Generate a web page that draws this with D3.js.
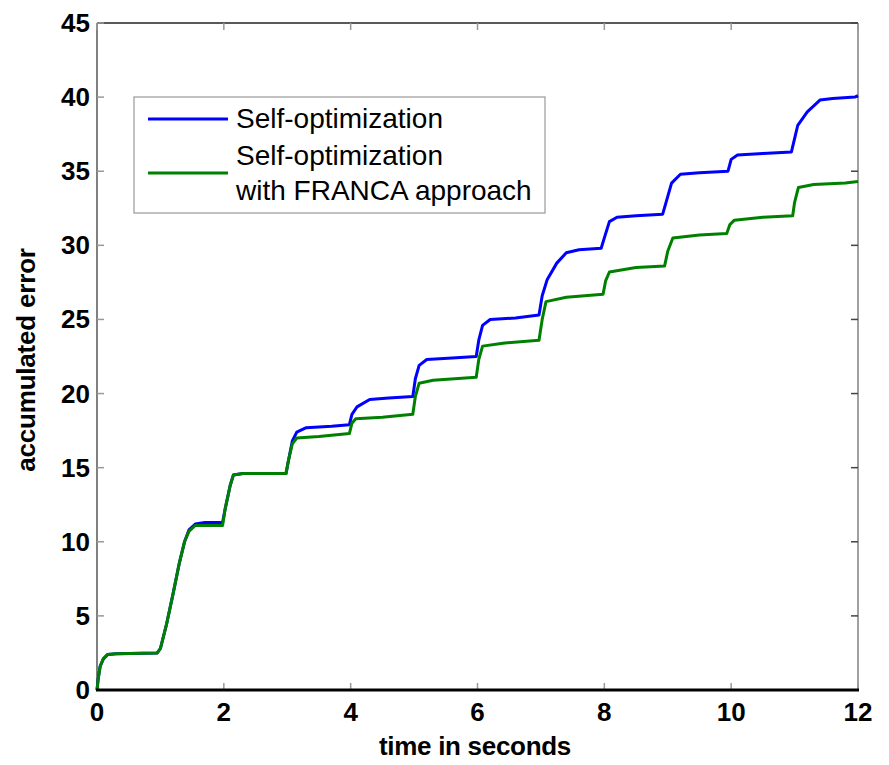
<!DOCTYPE html>
<html>
<head>
<meta charset="utf-8">
<script src="https://cdn.jsdelivr.net/npm/d3@7/dist/d3.min.js"></script>
<style>
  html, body { margin: 0; padding: 0; background: #fff; }
  svg { display: block; }
  text { font-family: "Liberation Sans", Arial, sans-serif; }
</style>
</head>
<body>
<svg id="chart" width="889" height="765"></svg>
<script>
// ---- data ----
const blueTime = [0,0.02,0.05,0.1,0.17,0.3,0.95,1.0,1.1,1.2,1.3,1.38,1.45,1.55,1.7,1.98,2.02,2.1,2.15,2.3,2.98,3.02,3.08,3.15,3.3,3.7,3.98,4.02,4.1,4.3,4.6,4.98,5.02,5.08,5.2,5.6,5.98,6.02,6.08,6.2,6.6,6.97,7.02,7.1,7.25,7.4,7.6,7.95,8.0,8.08,8.2,8.5,8.92,8.98,9.06,9.2,9.5,9.95,10.0,10.1,10.5,10.95,11.0,11.05,11.2,11.4,11.6,11.95,12.0];
const blueValues = [0,0.8,1.6,2.1,2.4,2.45,2.5,2.8,4.5,6.5,8.6,10.0,10.8,11.2,11.3,11.3,12.2,13.8,14.5,14.6,14.6,15.5,16.8,17.4,17.7,17.8,17.9,18.6,19.1,19.6,19.7,19.8,21.0,21.9,22.3,22.4,22.5,23.6,24.6,25.0,25.1,25.3,26.6,27.7,28.8,29.5,29.7,29.8,30.5,31.6,31.9,32.0,32.1,33.0,34.2,34.8,34.9,35.0,35.8,36.1,36.2,36.3,37.2,38.1,39.0,39.8,39.9,40.0,40.1];

const greenTime = [0,0.02,0.05,0.1,0.17,0.3,0.95,1.0,1.1,1.2,1.3,1.38,1.45,1.55,1.98,2.02,2.1,2.15,2.3,2.98,3.02,3.08,3.15,3.5,3.98,4.02,4.08,4.5,4.98,5.02,5.08,5.3,5.98,6.02,6.08,6.4,6.97,7.02,7.08,7.4,7.98,8.02,8.08,8.5,8.95,9.0,9.08,9.5,9.93,9.98,10.05,10.5,10.97,11.0,11.06,11.3,11.8,12.0];
const greenValues = [0,0.8,1.6,2.1,2.4,2.45,2.5,2.8,4.5,6.5,8.6,10.0,10.7,11.1,11.1,12.2,13.8,14.5,14.6,14.6,15.5,16.6,17.0,17.1,17.3,18.0,18.3,18.4,18.6,19.8,20.7,20.9,21.1,22.3,23.2,23.4,23.6,25.0,26.2,26.5,26.7,27.6,28.2,28.5,28.6,29.6,30.5,30.7,30.8,31.4,31.7,31.9,32.0,32.9,33.9,34.1,34.2,34.3];

const xTicks = [0,2,4,6,8,10,12];
const yTicks = [0,5,10,15,20,25,30,35,40,45];
const seriesNames = ["Self-optimization", "Self-optimization|with FRANCA approach"];
const seriesColors = ["#0000ff", "#008000"];
const xLabel = "time in seconds";
const yLabel = "accumulated error";

// ---- layout ----
const svg = d3.select("#chart");
const L = 97, R = 858, T = 23, B = 690;
const x = d3.scaleLinear().domain([0, 12]).range([L, R]);
const y = d3.scaleLinear().domain([0, 45]).range([B, T]);

// frame
svg.append("line").attr("x1", L).attr("x2", L).attr("y1", T).attr("y2", B).attr("stroke", "#808080").attr("stroke-width", 2);
svg.append("line").attr("x1", R).attr("x2", R).attr("y1", T).attr("y2", B).attr("stroke", "#808080").attr("stroke-width", 1.5);
svg.append("line").attr("x1", L).attr("x2", R).attr("y1", T).attr("y2", T).attr("stroke", "#222").attr("stroke-width", 1.5);

// ticks (inward, all four sides)
const tickLen = 7;
xTicks.forEach(v => {
  svg.append("line").attr("x1", x(v)).attr("x2", x(v)).attr("y1", B).attr("y2", B - tickLen).attr("stroke", "#999").attr("stroke-width", 1.5);
  svg.append("line").attr("x1", x(v)).attr("x2", x(v)).attr("y1", T).attr("y2", T + tickLen).attr("stroke", "#999").attr("stroke-width", 1.5);
});
yTicks.forEach(v => {
  svg.append("line").attr("x1", L).attr("x2", L + tickLen).attr("y1", y(v)).attr("y2", y(v)).attr("stroke", "#999").attr("stroke-width", 1.5);
  svg.append("line").attr("x1", R).attr("x2", R - tickLen).attr("y1", y(v)).attr("y2", y(v)).attr("stroke", "#444").attr("stroke-width", 1.5);
});

// tick labels
svg.append("g").selectAll("text").data(xTicks).join("text")
  .attr("x", d => x(d)).attr("y", 721).attr("text-anchor", "middle")
  .attr("font-size", 26).attr("font-weight", "bold").attr("fill", "#000")
  .text(d => d);
svg.append("g").selectAll("text").data(yTicks).join("text")
  .attr("x", 90).attr("y", d => y(d) + 9).attr("text-anchor", "end")
  .attr("font-size", 26).attr("font-weight", "bold").attr("fill", "#000")
  .text(d => d);

// axis labels
svg.append("text").attr("x", 475).attr("y", 755).attr("text-anchor", "middle")
  .attr("font-size", 26).attr("font-weight", "bold").attr("letter-spacing", -0.3).text(xLabel);
svg.append("text").attr("transform", "translate(35,360) rotate(-90)").attr("text-anchor", "middle")
  .attr("font-size", 26).attr("font-weight", "bold").attr("letter-spacing", -0.2).text(yLabel);

// series
const line = d3.line().x(d => x(d[0])).y(d => y(d[1]));
const blueData = blueTime.map((t, i) => [t, blueValues[i]]);
const greenData = greenTime.map((t, i) => [t, greenValues[i]]);
svg.append("path").datum(blueData).attr("d", line).attr("fill", "none")
  .attr("stroke", seriesColors[0]).attr("stroke-width", 3).attr("stroke-linejoin", "round");
svg.append("path").datum(greenData).attr("d", line).attr("fill", "none")
  .attr("stroke", seriesColors[1]).attr("stroke-width", 3).attr("stroke-linejoin", "round");

// bottom axis line drawn on top
svg.append("line").attr("x1", L - 1).attr("x2", R + 1).attr("y1", B).attr("y2", B).attr("stroke", "#000").attr("stroke-width", 3);

// legend
const lg = svg.append("g");
lg.append("rect").attr("x", 134).attr("y", 97).attr("width", 411).attr("height", 116)
  .attr("fill", "#fff").attr("stroke", "#999").attr("stroke-width", 1.2);
const legendY = [119, 173];
seriesNames.forEach((name, i) => {
  lg.append("line").attr("x1", 148).attr("x2", 228).attr("y1", legendY[i]).attr("y2", legendY[i])
    .attr("stroke", seriesColors[i]).attr("stroke-width", 3);
});
lg.append("text").attr("x", 236).attr("y", 128).attr("font-size", 28).text(seriesNames[0].split("|")[0]);
lg.append("text").attr("x", 236).attr("y", 165).attr("font-size", 28).text(seriesNames[1].split("|")[0]);
lg.append("text").attr("x", 236).attr("y", 200).attr("font-size", 28).text(seriesNames[1].split("|")[1]);
</script>
</body>
</html>
